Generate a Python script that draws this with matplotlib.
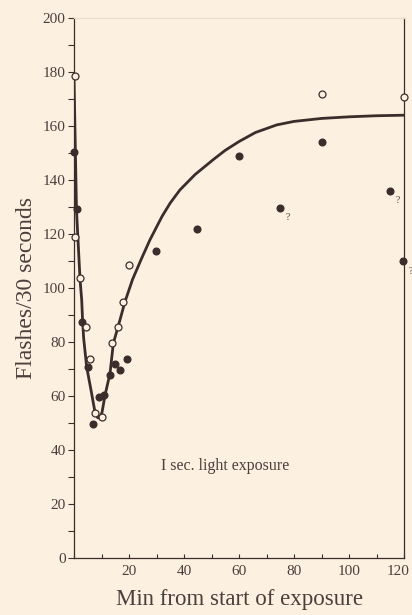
import matplotlib
matplotlib.use("Agg")
import matplotlib.pyplot as plt
from matplotlib.ticker import MultipleLocator
from matplotlib.transforms import ScaledTranslation

# ---- data ----
filled_x = [0.0, 1.0, 3.0, 5.2, 7.0, 9.2, 10.9, 13.1, 14.9, 16.7, 19.2, 29.8, 44.8, 60.1, 74.9, 90.1, 115.0, 119.8]
filled_y = [150.5, 129.3, 87.4, 70.7, 49.8, 59.5, 60.2, 67.7, 71.8, 69.6, 73.6, 113.8, 121.7, 148.8, 129.7, 154.0, 136.0, 110.0]

open_x = [0.2, 0.4, 2.1, 4.2, 5.8, 7.6, 10.0, 13.9, 16.0, 17.9, 20.1, 90.1, 120.0]
open_y = [178.6, 118.9, 103.8, 85.6, 73.6, 53.6, 52.4, 79.5, 85.7, 94.8, 108.5, 171.8, 170.9]

query_x = [74.9, 115.0, 119.8]
query_y = [129.7, 136.0, 110.0]

curve_x = [0, 0.9, 2.2, 2.8, 3.1, 3.5, 4.6, 6.4, 7.6, 8.6, 9.4, 10.2, 11.3, 13.1, 14.3, 16.7, 18.5, 21.3,
           24.6, 27.6, 32, 35, 38.5, 44, 50.7, 55, 60.1, 66, 73.7, 80, 90, 100, 110, 120]
curve_y = [178, 129, 103, 95.6, 88.5, 81.5, 70.8, 61, 54.2, 52, 51.8, 54, 60.4, 68.4, 79.5, 88.1, 94.8, 103.2,
           111.0, 117.8, 126.5, 131.5, 136.3, 142.0, 147.6, 151.0, 154.3, 157.6, 160.4, 161.7, 162.8, 163.4, 163.8, 164]

x_ticks = [20, 40, 60, 80, 100, 120]
y_ticks = [0, 20, 40, 60, 80, 100, 120, 140, 160, 180, 200]

bg = "#fcf0e0"
ink = "#3b2d2c"
txt = "#4a3f3c"
font = "Liberation Serif"

fig = plt.figure(figsize=(4.12, 6.15), dpi=100, facecolor=bg)
ax = fig.add_axes([74 / 412, 1 - 558 / 615, 330 / 412, 540 / 615])
ax.set_facecolor(bg)

ax.plot(curve_x, curve_y, color=ink, lw=2.0, zorder=2, solid_capstyle="round",
        solid_joinstyle="round")
ax.plot(filled_x, filled_y, "o", color=ink, ms=4.8, mec=ink, zorder=3, clip_on=False)
ax.plot(open_x, open_y, "o", mfc=bg, mec=ink, mew=0.9, ms=5.0, zorder=4, clip_on=False)

for qx, qy in zip(query_x, query_y):
    ax.annotate("?", (qx, qy), xytext=(4, -9), textcoords="offset points",
                fontsize=7, color=txt, family=font)

ax.text(55, 34, "I sec. light exposure", ha="center", va="center", fontsize=11.5,
        color=txt, family=font)

ax.set_xlim(0, 120)
ax.set_ylim(0, 200)
ax.set_xticks(x_ticks)
ax.set_yticks(y_ticks)
ax.xaxis.set_minor_locator(MultipleLocator(10))
ax.yaxis.set_minor_locator(MultipleLocator(10))
ax.tick_params(axis="x", which="both", direction="in", length=3, width=0.8, color=ink,
               labelsize=11, labelcolor=txt, pad=5)
ax.tick_params(axis="y", which="both", direction="out", length=4, width=0.8, color=ink,
               labelsize=11, labelcolor=txt, pad=2)
for lab in ax.get_xticklabels() + ax.get_yticklabels():
    lab.set_family(font)
# last x label sits slightly left, as in the reference
last = ax.get_xticklabels()[-1]
last.set_transform(last.get_transform() + ScaledTranslation(-6 / 100, 0, fig.dpi_scale_trans))

for s in ["left", "bottom", "right"]:
    ax.spines[s].set_color(ink)
    ax.spines[s].set_linewidth(0.9)
ax.spines["top"].set_color("#e8dccb")
ax.spines["top"].set_linewidth(0.9)

ax.set_xlabel("Min from start of exposure", fontsize=16.5, color=txt,
              family=font, labelpad=8)
ax.set_ylabel("Flashes/30 seconds", fontsize=17, color=txt,
              family=font, labelpad=4)

fig.savefig("out.png", dpi=100, facecolor=bg)
